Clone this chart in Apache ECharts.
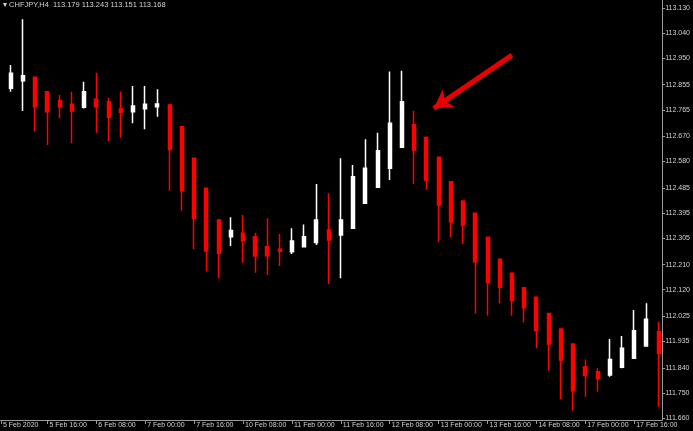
<!DOCTYPE html>
<html>
<head>
<meta charset="utf-8">
<style>
  html, body { margin: 0; padding: 0; background: #000; }
  #chart { width: 693px; height: 431px; }
</style>
<script src="https://cdn.jsdelivr.net/npm/echarts@6/dist/echarts.min.js"></script>
</head>
<body>
<div id="chart"></div>
<script>
  const titleText = '\u25BE CHFJPY,H4  113.179 113.243 113.151 113.168'

  // H4 bars, left to right
  const opens = [112.818, 112.842, 112.869, 112.882, 112.830, 112.798, 112.785, 112.774, 112.803, 112.794,
    112.768, 112.758, 112.769, 112.776, 112.782, 112.704, 112.591, 112.484, 112.370, 112.310,
    112.322, 112.310, 112.274, 112.265, 112.256, 112.274, 112.289, 112.334, 112.316, 112.340,
    112.430, 112.487, 112.555, 112.631, 112.711, 112.666, 112.595, 112.507, 112.438, 112.394,
    112.308, 112.229, 112.179, 112.127, 112.093, 112.035, 111.979, 111.925, 111.844, 111.826,
    111.814, 111.842, 111.874, 111.918, 111.969]
  const closes = [112.879, 112.896, 112.887, 112.776, 112.758, 112.776, 112.761, 112.830, 112.776, 112.738,
    112.756, 112.779, 112.785, 112.786, 112.623, 112.475, 112.376, 112.259, 112.251, 112.332,
    112.296, 112.241, 112.242, 112.258, 112.295, 112.310, 112.370, 112.298, 112.370, 112.525,
    112.555, 112.618, 112.717, 112.794, 112.621, 112.513, 112.424, 112.364, 112.352, 112.220,
    112.147, 112.129, 112.081, 112.055, 111.974, 111.925, 111.868, 111.758, 111.812, 111.802,
    111.870, 111.910, 111.973, 112.014, 111.892]
  const lows = [112.782, 112.830, 112.761, 112.687, 112.639, 112.735, 112.645, 112.770, 112.683, 112.653,
    112.665, 112.717, 112.695, 112.740, 112.475, 112.403, 112.265, 112.185, 112.161, 112.277,
    112.217, 112.181, 112.173, 112.205, 112.248, 112.272, 112.280, 112.140, 112.161, 112.338,
    112.427, 112.485, 112.513, 112.629, 112.499, 112.478, 112.292, 112.308, 112.284, 112.035,
    112.027, 112.071, 112.027, 112.002, 111.910, 111.830, 111.727, 111.686, 111.736, 111.754,
    111.808, 111.838, 111.872, 111.916, 111.700]
  const highs = [112.918, 112.926, 113.090, 112.884, 112.832, 112.818, 112.830, 112.866, 112.898, 112.808,
    112.830, 112.850, 112.850, 112.839, 112.786, 112.706, 112.593, 112.486, 112.372, 112.380,
    112.388, 112.324, 112.376, 112.320, 112.340, 112.354, 112.499, 112.466, 112.591, 112.567,
    112.659, 112.683, 112.902, 112.905, 112.762, 112.669, 112.597, 112.509, 112.440, 112.396,
    112.310, 112.231, 112.181, 112.129, 112.095, 112.037, 111.981, 111.927, 111.870, 111.838,
    111.943, 111.954, 112.047, 112.071, 112.005]

  // time labels sit on every 4th bar
  const labelIndex = [0.2, 4, 8, 12, 16, 20, 24, 28, 32, 36, 40, 44, 48, 52]
  const labelText = ['5 Feb 2020', '5 Feb 16:00', '6 Feb 08:00', '7 Feb 00:00', '7 Feb 16:00',
    '10 Feb 08:00', '11 Feb 00:00', '11 Feb 16:00', '12 Feb 08:00', '13 Feb 00:00',
    '13 Feb 16:00', '14 Feb 08:00', '17 Feb 00:00', '17 Feb 16:00']

  const priceTicks = ['113.130', '113.040', '112.950', '112.855', '112.765', '112.670', '112.580',
    '112.485', '112.395', '112.305', '112.210', '112.120', '112.025', '111.935', '111.840',
    '111.750', '111.660']

  // red arrow: tail -> tip, in [bar, price]
  const arrowFrom = [42.0, 112.961]
  const arrowTo = [35.6, 112.770]

  const candles = opens.map((o, i) => [i, o, closes[i], lows[i], highs[i]])
  const tickValues = priceTicks.map(Number)
  const textColor = '#d2d2d2'
  const axisColor = '#9a9a9a'

  const chart = echarts.init(document.getElementById('chart'))
  chart.setOption({
    animation: false,
    backgroundColor: '#000',
    title: {
      text: titleText,
      left: 3,
      top: 1,
      padding: 0,
      textStyle: { color: textColor, fontSize: 7.5, fontWeight: 'normal', fontFamily: 'Liberation Sans' }
    },
    grid: { left: 0, right: 29, top: 0, bottom: 11 },
    xAxis: {
      type: 'value',
      min: 0.17,
      max: 54.29,
      splitLine: { show: false },
      axisLine: { show: true, lineStyle: { color: axisColor, width: 1 } },
      axisTick: { show: true, customValues: labelIndex, length: 4, lineStyle: { color: axisColor } },
      axisLabel: {
        customValues: labelIndex,
        formatter: v => labelText[labelIndex.indexOf(v)],
        align: 'left',
        margin: 2,
        padding: [0, 0, 0, 2],
        color: textColor,
        fontSize: 7,
        fontFamily: 'Liberation Sans'
      }
    },
    yAxis: {
      type: 'value',
      position: 'right',
      min: 111.6528,
      max: 113.1587,
      splitLine: { show: false },
      axisLine: { show: true, lineStyle: { color: axisColor, width: 1 } },
      axisTick: { show: true, customValues: tickValues, length: 3, lineStyle: { color: axisColor } },
      axisLabel: {
        customValues: tickValues,
        formatter: v => priceTicks[tickValues.findIndex(t => Math.abs(t - v) < 1e-6)],
        margin: 3,
        color: textColor,
        fontSize: 7,
        fontFamily: 'Liberation Sans'
      }
    },
    series: [{
      type: 'candlestick',
      data: candles,
      encode: { x: 0, y: [1, 2, 3, 4] },
      barWidth: 3.5,
      itemStyle: {
        color: '#ffffff',
        color0: '#ff0000',
        borderColor: '#ffffff',
        borderColor0: '#ff0000',
        borderWidth: 1.5
      },
      markLine: {
        silent: true,
        symbol: ['none', 'arrow'],
        symbolSize: [16, 18],
        label: { show: false },
        lineStyle: { color: '#e80000', width: 5, type: 'solid', opacity: 1 },
        data: [[{ coord: arrowFrom }, { coord: arrowTo }]]
      }
    }]
  })
</script>
</body>
</html>
